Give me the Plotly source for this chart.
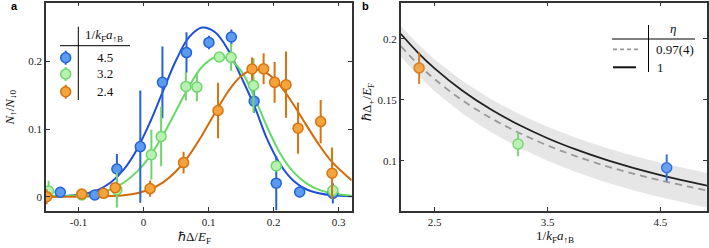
import plotly.graph_objects as go

W, H = 709, 248

# ---------------- panel a data ----------------
blue_x = [-0.128, -0.075, -0.041, -0.005, 0.029, 0.066, 0.1005, 0.135, 0.170, 0.204, 0.240, 0.291]
blue_y = [0.0065, 0.0025, 0.041, 0.074, 0.169, 0.213, 0.228, 0.236, 0.141, 0.020, 0.007, 0.005]
blue_e = [0.006, 0.004, 0.022, 0.083, 0.053, 0.030, 0.010, 0.011, 0.017, 0.040, 0.008, 0.015]

green_x = [-0.146, -0.095, -0.041, 0.012, 0.027, 0.065, 0.082, 0.1165, 0.1345, 0.169, 0.204, 0.291]
green_y = [0.0084, 0.0025, 0.010, 0.062, 0.089, 0.163, 0.162, 0.2065, 0.206, 0.1645, 0.0455, 0.009]
green_e = [0.015, 0.004, 0.026, 0.037, 0.044, 0.021, 0.021, 0.005, 0.020, 0.040, 0.007, 0.006]

orange_x = [-0.149, -0.095, -0.0615, -0.0435, 0.010, 0.0615, 0.1145, 0.1668, 0.1846, 0.2015, 0.219, 0.2375, 0.2723, 0.2898]
orange_y = [0.000, 0.004, 0.005, 0.0133, 0.012, 0.0504, 0.1274, 0.1887, 0.189, 0.169, 0.1655, 0.1013, 0.111, 0.0346]
orange_e = [0.011, 0.004, 0.004, 0.006, 0.012, 0.016, 0.041, 0.017, 0.023, 0.030, 0.049, 0.038, 0.032, 0.038]

# fit curves
curve_x = [-0.15, -0.12, -0.09, -0.07, -0.05, -0.03, -0.01, 0.01, 0.03, 0.05, 0.07, 0.09,
           0.11, 0.13, 0.15, 0.17, 0.19, 0.21, 0.23, 0.25, 0.27, 0.29, 0.32]
blue_fit = [0.0002, 0.001, 0.0044, 0.0101, 0.0213, 0.0406, 0.0702, 0.110, 0.1564, 0.2016, 0.2357, 0.2499,
            0.243, 0.217, 0.177, 0.135, 0.085, 0.048, 0.024, 0.011, 0.005, 0.002, 0.0005]
green_fit = [0.0005, 0.0012, 0.002, 0.005, 0.011, 0.021, 0.037, 0.060, 0.091, 0.127, 0.163, 0.192,
             0.206, 0.204, 0.186, 0.148, 0.103, 0.064, 0.037, 0.020, 0.010, 0.005, 0.0015]
orange_fit = [0.0, 0.0, 0.0003, 0.0006, 0.0011, 0.0023, 0.0052, 0.011, 0.0212, 0.0376, 0.061, 0.0909,
              0.124, 0.1554, 0.1784, 0.188, 0.1824, 0.1642, 0.137, 0.1062, 0.0764, 0.051, 0.0241]

a_xticks = [-0.1, 0, 0.1, 0.2, 0.3]
a_xticktext = ["-0.1", "0", "0.1", "0.2", "0.3"]
a_yticks = [0, 0.1, 0.2]
a_yticktext = ["0", "0.1", "0.2"]
legend_labels = ["4.5", "3.2", "2.4"]

# ---------------- panel b data ----------------
b_x = [2.363, 3.239, 4.555]
b_y = [0.1761, 0.1138, 0.0944]
b_e = [0.013, 0.010, 0.011]

theory_x = [2.2, 2.35, 2.5, 2.75, 3.0, 3.25, 3.5, 3.75, 4.0, 4.25, 4.5, 4.75, 4.912]
eta1 = [0.2042, 0.1890, 0.1758, 0.1573, 0.1421, 0.1294, 0.1186, 0.1094, 0.1014, 0.0945, 0.0884, 0.0830, 0.0798]
eta097 = [0.1940, 0.1796, 0.1670, 0.1494, 0.1350, 0.1229, 0.1127, 0.1039, 0.0963, 0.0898, 0.0840, 0.0789, 0.0758]
band_hi = [0.2105, 0.1959, 0.1831, 0.1653, 0.1506, 0.1383, 0.1279, 0.1189, 0.1111, 0.1044, 0.0985, 0.0932, 0.0901]
band_lo = [0.1855, 0.1703, 0.1570, 0.1385, 0.1234, 0.1107, 0.1001, 0.0909, 0.0830, 0.0762, 0.0702, 0.0649, 0.0617]

b_xticks = [2.5, 3.5, 4.5]
b_xticktext = ["2.5", "3.5", "4.5"]
b_yticks = [0.1, 0.15, 0.2]
b_yticktext = ["0.1", "0.15", "0.2"]
eta_labels = ["0.97(4)", "1"]

# ---------------- styles ----------------
BLUE_L, BLUE_F, BLUE_E = "#1f4fd8", "#5b9bf0", "#2563d9"
GREEN_L, GREEN_F, GREEN_E = "#66d966", "#b8f2b0", "#6fd56f"
ORANGE_L, ORANGE_F, ORANGE_E = "#d46a08", "#f5a33d", "#d8730f"
SERIF = "Liberation Serif"
FRAME = "#333333"


def px(x):
    return x / W


def py(y):
    return 1 - y / H


fig = go.Figure()

# panel a curves
for ys, col in [(blue_fit, BLUE_L), (green_fit, GREEN_L), (orange_fit, ORANGE_L)]:
    fig.add_trace(go.Scatter(x=curve_x, y=ys, mode="lines", line=dict(color=col, width=2, shape="spline"),
                             xaxis="x", yaxis="y", showlegend=False, hoverinfo="skip"))

# panel a points
for xs, ys, es, fc, ec in [(blue_x, blue_y, blue_e, BLUE_F, BLUE_E),
                           (green_x, green_y, green_e, GREEN_F, GREEN_E),
                           (orange_x, orange_y, orange_e, ORANGE_F, ORANGE_E)]:
    fig.add_trace(go.Scatter(x=xs, y=ys, mode="markers",
                             marker=dict(size=10, color=fc, line=dict(color=ec, width=1.5)),
                             error_y=dict(type="data", array=es, width=0, thickness=2, color=ec),
                             xaxis="x", yaxis="y", showlegend=False))

# panel b band and lines
fig.add_trace(go.Scatter(x=theory_x, y=band_lo, mode="lines", line=dict(width=0, color="rgba(0,0,0,0)"),
                         xaxis="x2", yaxis="y2", showlegend=False, hoverinfo="skip"))
fig.add_trace(go.Scatter(x=theory_x, y=band_hi, mode="lines", line=dict(width=0, color="rgba(0,0,0,0)"),
                         fill="tonexty", fillcolor="#e6e6e6",
                         xaxis="x2", yaxis="y2", showlegend=False, hoverinfo="skip"))
fig.add_trace(go.Scatter(x=theory_x, y=eta097, mode="lines",
                         line=dict(color="#999999", width=1.8, dash="7px,5px", shape="spline"),
                         xaxis="x2", yaxis="y2", showlegend=False))
fig.add_trace(go.Scatter(x=theory_x, y=eta1, mode="lines",
                         line=dict(color="#222222", width=1.8, shape="spline"),
                         xaxis="x2", yaxis="y2", showlegend=False))

b_fill = [ORANGE_F, GREEN_F, BLUE_F]
b_edge = [ORANGE_E, GREEN_E, BLUE_E]
for i in range(3):
    fig.add_trace(go.Scatter(x=[b_x[i]], y=[b_y[i]], mode="markers",
                             marker=dict(size=10, color=b_fill[i], line=dict(color=b_edge[i], width=1.5)),
                             error_y=dict(type="data", array=[b_e[i]], width=0, thickness=2, color=b_edge[i]),
                             opacity=0.9, xaxis="x2", yaxis="y2", showlegend=False))

axis_common = dict(showline=True, mirror="ticks", linecolor=FRAME, linewidth=1.5,
                   ticks="inside", ticklen=4, tickwidth=1.2, tickcolor=FRAME,
                   showgrid=False, zeroline=False,
                   tickfont=dict(family=SERIF, size=11, color="#222222"))

ydom = [1 - 210.7 / H, 1 - 2.5 / H]
fig.update_layout(
    width=W, height=H, margin=dict(l=0, r=0, t=0, b=0),
    paper_bgcolor="white", plot_bgcolor="white",
    xaxis=dict(domain=[px(46), px(351.7)], range=[-0.15, 0.32], tickvals=a_xticks, ticktext=a_xticktext,
               anchor="y", **axis_common),
    yaxis=dict(domain=ydom, range=[-0.0207, 0.287], tickvals=a_yticks, ticktext=a_yticktext,
               anchor="x", **axis_common),
    xaxis2=dict(domain=[px(400.7), px(707)], range=[2.2, 4.912], tickvals=b_xticks, ticktext=b_xticktext,
                anchor="y2", **axis_common),
    yaxis2=dict(domain=ydom, range=[0.0592, 0.2298], tickvals=b_yticks, ticktext=b_yticktext,
                anchor="x2", **axis_common),
)

shapes = []
annotations = []


def line(x0, y0, x1, y1, color="black", width=1, dash=None):
    d = dict(type="line", xref="paper", yref="paper", x0=px(x0), y0=py(y0), x1=px(x1), y1=py(y1),
             line=dict(color=color, width=width))
    if dash:
        d["line"]["dash"] = dash
    shapes.append(d)


def text(x, y, s, size=13, xanchor="center", angle=0, family=SERIF, color="#111111"):
    annotations.append(dict(x=px(x), y=py(y), xref="paper", yref="paper", text=s, showarrow=False,
                            xanchor=xanchor, yanchor="middle", textangle=angle,
                            font=dict(family=family, size=size, color=color)))


# panel a legend table
line(60, 45.7, 130, 45.7)
line(78.3, 26.7, 78.3, 100)
text(104, 35.5, "1/<i>k</i><sub>F</sub><i>a</i><sub>↑B</sub>", size=13)
leg_y = [57.7, 74.0, 91.7]
leg_fill = [BLUE_F, GREEN_F, ORANGE_F]
leg_edge = [BLUE_E, GREEN_E, ORANGE_E]
for i in range(3):
    line(65.7, leg_y[i] - 7, 65.7, leg_y[i] + 7, color=leg_edge[i], width=2)
    shapes.append(dict(type="circle", xref="paper", yref="paper",
                       x0=px(65.7 - 5), x1=px(65.7 + 5), y0=py(leg_y[i] + 5), y1=py(leg_y[i] - 5),
                       fillcolor=leg_fill[i], line=dict(color=leg_edge[i], width=1.5)))
    text(105, leg_y[i], legend_labels[i], size=13)

# panel b legend table
line(612, 39, 695, 39)
line(648.5, 25, 648.5, 72)
text(673, 28.5, "<i>η</i>", size=13)
line(613, 49.3, 638, 49.3, color="#999999", width=1.8, dash="4px,3px")
line(613, 67.3, 636, 67.3, color="#111111", width=2)
text(654, 49.5, eta_labels[0], size=13, xanchor="left")
text(655, 67.5, eta_labels[1], size=13, xanchor="left")

# axis titles
text(194, 237.5, "ℏΔ/<i>E</i><sub>F</sub>", size=13)
text(9.5, 108, "<i>N</i><sub>↑</sub>/<i>N</i><sub>↓0</sub>", size=13, angle=-90)
text(555, 236, "1/<i>k</i><sub>F</sub><i>a</i><sub>↑B</sub>", size=13)
text(367, 102, "ℏΔ<sub>+</sub>/<i>E</i><sub>F</sub>", size=13, angle=-90)

# panel labels
text(14, 6, "<b>a</b>", size=11, family="Liberation Sans", color="black")
text(365, 6, "<b>b</b>", size=11, family="Liberation Sans", color="black")

fig.update_layout(shapes=shapes, annotations=annotations)
fig.write_html("out.html", config={"displayModeBar": False},
               post_script="document.body.style.margin='0';document.body.style.padding='0';")
